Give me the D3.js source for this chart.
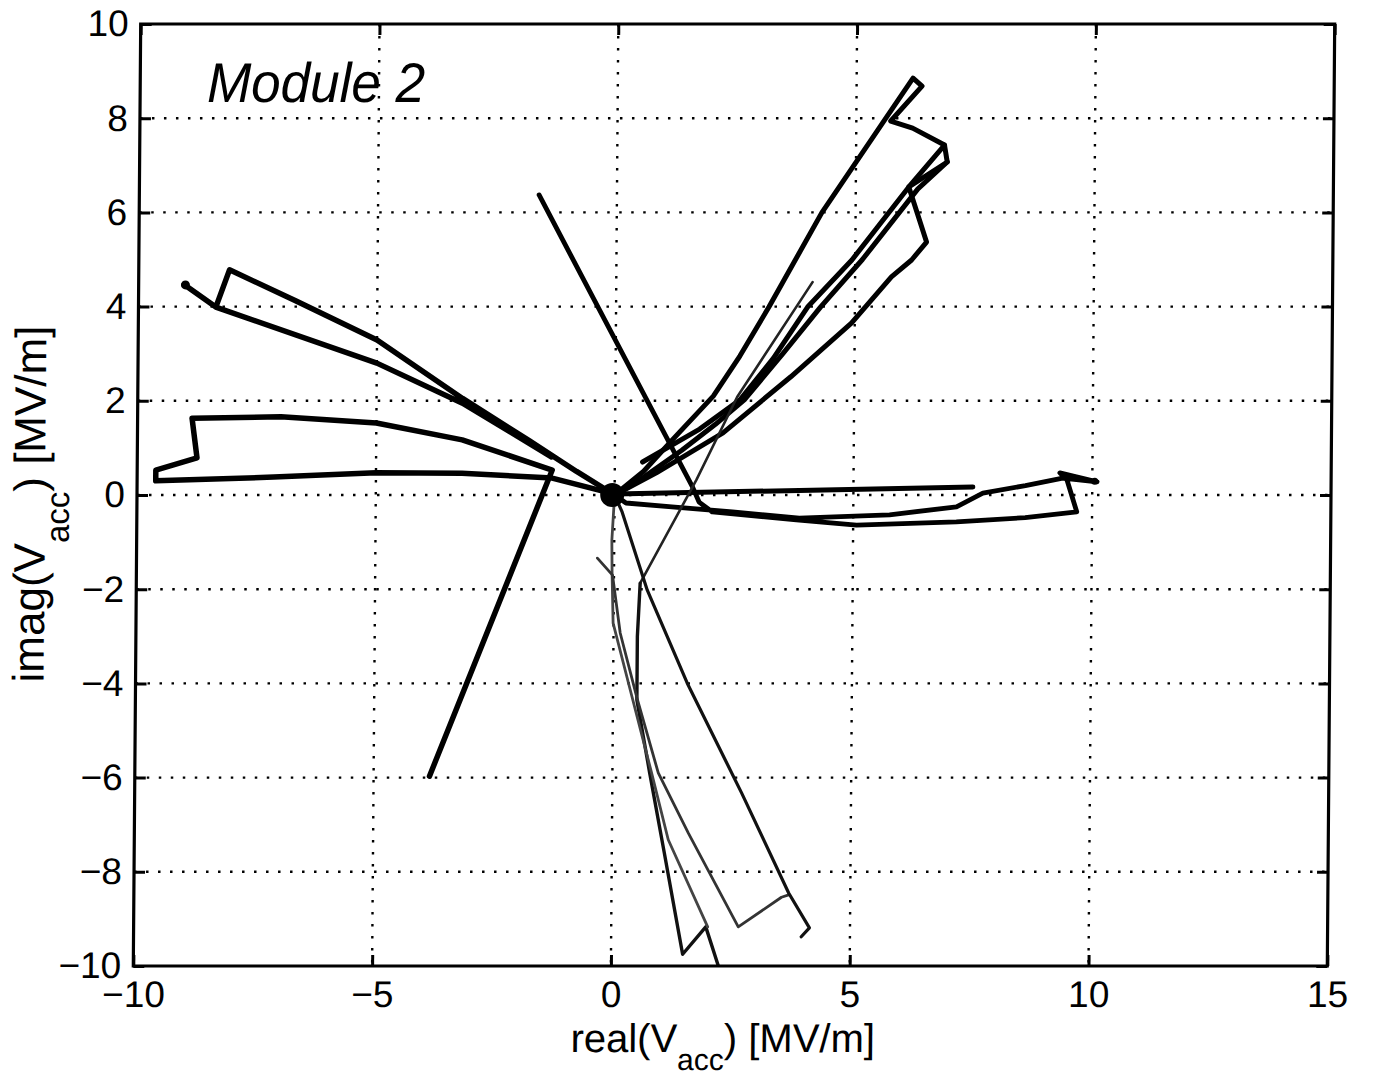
<!DOCTYPE html>
<html><head><meta charset="utf-8">
<script src="https://cdn.jsdelivr.net/npm/d3@7"></script>
<style>body{margin:0;background:#fff}svg{display:block}</style>
</head><body>
<svg id="chart" width="1375" height="1077"></svg>
<script>
// ---------- data ----------
const xDomain = [-10, 15];
const yDomain = [-10, 10];
const xTicks = [-10, -5, 0, 5, 10, 15];
const yTicks = [-10, -8, -6, -4, -2, 0, 2, 4, 6, 8, 10];
const xLabelParts = ["real(V", "acc", ") [MV/m]"];
const yLabelParts = ["imag(V", "acc", ") [MV/m]"];
const annotation = "Module 2";

const traceA = [[0,0],[-0.8,0.5],[-1.79,1.15],[-3.2,2.05],[-5.0,3.29],[-6.7,4.12],[-8.10,4.78],[-8.38,3.99],[-9.05,4.47],[-8.38,3.99],[-5.0,2.80],[-3.2,1.95],[-1.33,0.81]];
const traceB = [[0,0.02],[-1.31,0.36],[-3.2,0.46],[-5.0,0.47],[-7.14,0.38],[-9.61,0.30],[-9.61,0.53],[-8.75,0.79],[-8.86,1.63],[-7.0,1.66],[-5.0,1.53],[-3.2,1.17],[-1.31,0.53],[-3.83,-5.97]];
const traceFlat = [[0,0.02],[7.5,0.17]];
const traceC = [[-1.63,6.37],[1.63,0.17],[1.77,-0.15],[2.05,-0.36],[3.81,-0.53],[5.07,-0.64],[7.16,-0.57],[8.6,-0.48],[9.68,-0.36],[9.47,0.32],[9.32,0.47],[10.1,0.28],[9.38,0.36],[8.6,0.2],[7.71,0.04],[7.16,-0.25],[5.76,-0.42],[3.87,-0.49],[2.47,-0.36],[1.2,-0.25],[0.24,-0.17],[0,0]];
const traceD = [[0,0],[0.6,0.5],[1.2,1.17],[2.05,2.1],[2.6,2.95],[3.2,3.99],[4.29,5.99],[5.59,7.96],[6.18,8.85],[6.37,8.68],[5.72,7.94],[6.18,7.79],[6.85,7.43],[6.91,7.07],[6.11,6.54],[6.49,5.37],[6.18,4.99],[5.76,4.63],[4.93,3.65],[3.67,2.51],[2.26,1.32],[0.87,0.47],[0,0]];
const traceM1 = [[0.58,0.70],[1.77,1.40],[2.61,2.02],[3.3,2.9],[4.01,3.99],[4.93,4.99],[6.11,6.54],[6.85,7.43]];
const traceM2 = [[0,0],[0.5,0.3],[1.4,0.95],[2.1,1.5],[2.7,2.02],[3.5,3.0],[4.28,3.99],[5.15,5.0],[6.3,6.5],[6.91,7.07]];
const traceThin = [[4.11,4.52],[2.55,2.08],[1.71,0.32],[0.55,-1.87]];
const traceL3 = [[0.55,-1.87],[0.5,-3.0],[0.5,-4.35],[0.78,-5.9],[1.1,-7.6],[1.5,-9.75],[1.98,-9.17],[2.25,-10.0]];
const traceL1 = [[0,0],[-0.05,-0.96],[-0.04,-1.66],[-0.01,-2.72],[0.36,-4.14],[0.82,-5.90],[1.18,-7.32],[2.02,-9.17]];
const traceL2 = [[-0.35,-1.34],[-0.03,-1.70],[0.14,-2.93],[0.5,-4.3],[0.96,-5.90],[1.60,-7.18],[2.66,-9.17],[3.56,-8.54],[3.71,-8.49]];
const traceL4 = [[0,0],[0.16,-0.36],[0.7,-2.02],[1.55,-3.99],[2.71,-6.33],[3.71,-8.45],[4.15,-9.19],[3.98,-9.38]];
const blobs = [[-0.05,0,12],[-9.02,4.46,4.5],[10.05,0.29,3.5]];

// ---------- drawing ----------
const L = 137, R = 1331, T = 24, B = 966;
const x = d3.scaleLinear().domain(xDomain).range([L, R]);
const y = d3.scaleLinear().domain(yDomain).range([B, T]);
const FONT = "'Liberation Sans', Arial, Helvetica, sans-serif";
const fmt = d => d < 0 ? "\u2212" + (-d) : String(d);

const svg = d3.select("#chart");
const g = svg.append("g").attr("transform", "translate(0,495) skewX(-0.45) translate(0,-495)");

svg.append("defs").append("clipPath").attr("id", "clip")
  .append("rect").attr("x", L).attr("y", T).attr("width", R - L).attr("height", B - T);

// grid
const grid = g.append("g").attr("stroke", "#000").attr("stroke-width", 2.4).attr("stroke-dasharray", "2.5,9.5");
grid.selectAll(".gx").data(xTicks.filter(d => d > xDomain[0] && d < xDomain[1])).join("line")
  .attr("x1", d => x(d)).attr("x2", d => x(d)).attr("y1", T).attr("y2", B);
grid.selectAll(".gy").data(yTicks.filter(d => d > yDomain[0] && d < yDomain[1])).join("line")
  .attr("y1", d => y(d)).attr("y2", d => y(d)).attr("x1", L).attr("x2", R);

// traces
const line = d3.line().x(d => x(d[0])).y(d => y(d[1]));
const series = [
  {data: traceB, w: 5.5, c: "#000"},
  {data: traceA, w: 5.5, c: "#000"},
  {data: traceFlat, w: 5, c: "#000"},
  {data: traceC, w: 4.8, c: "#000"},
  {data: traceD, w: 5, c: "#000"},
  {data: traceM1, w: 5, c: "#000"},
  {data: traceM2, w: 5, c: "#000"},
  {data: traceThin, w: 2.6, c: "#222"},
  {data: traceL3, w: 3.4, c: "#111"},
  {data: traceL1, w: 2.8, c: "#444"},
  {data: traceL2, w: 2.8, c: "#333"},
  {data: traceL4, w: 3.2, c: "#111"}
];
const tr = g.append("g").attr("clip-path", "url(#clip)");
tr.selectAll("path").data(series).join("path")
  .attr("d", s => line(s.data)).attr("fill", "none")
  .attr("stroke", s => s.c).attr("stroke-width", s => s.w)
  .attr("stroke-linejoin", "round").attr("stroke-linecap", "round");
tr.selectAll("circle").data(blobs).join("circle")
  .attr("cx", d => x(d[0])).attr("cy", d => y(d[1])).attr("r", d => d[2]).attr("fill", "#000");

// axes (ticks inward, box)
function styleAxis(sel) {
  sel.select(".domain").remove();
  sel.selectAll(".tick line").attr("stroke", "#000").attr("stroke-width", 3);
  sel.selectAll(".tick text").attr("fill", "#000").attr("font-family", FONT).attr("font-size", 37);
}
g.append("g").attr("transform", `translate(0,${B})`)
  .call(d3.axisBottom(x).tickValues(xTicks).tickSizeInner(-11).tickSizeOuter(0).tickPadding(15).tickFormat(fmt)).call(styleAxis);
g.append("g").attr("transform", `translate(0,${T})`)
  .call(d3.axisTop(x).tickValues(xTicks).tickSizeInner(-11).tickSizeOuter(0).tickFormat("")).call(styleAxis);
g.append("g").attr("transform", `translate(${L},0)`)
  .call(d3.axisLeft(y).tickValues(yTicks).tickSizeInner(-11).tickSizeOuter(0).tickPadding(12).tickFormat(fmt)).call(styleAxis);
g.append("g").attr("transform", `translate(${R},0)`)
  .call(d3.axisRight(y).tickValues(yTicks).tickSizeInner(-11).tickSizeOuter(0).tickFormat("")).call(styleAxis);
g.append("rect").attr("x", L).attr("y", T).attr("width", R - L).attr("height", B - T)
  .attr("fill", "none").attr("stroke", "#000").attr("stroke-width", 3.2);

// axis labels
function label(parent, parts, subSize, subShift) {
  parent.append("tspan").text(parts[0]);
  parent.append("tspan").attr("dy", subShift).attr("font-size", subSize).text(parts[1]);
  parent.append("tspan").attr("dy", -subShift).text(parts[2]);
}
const xl = g.append("text").attr("x", 727).attr("y", 1052).attr("text-anchor", "middle")
  .attr("font-family", FONT).attr("font-size", 40).attr("fill", "#000");
label(xl, xLabelParts, 30, 18);
const yl = g.append("text").attr("transform", "translate(45,504) rotate(-90)").attr("text-anchor", "middle")
  .attr("font-family", FONT).attr("font-size", 44).attr("fill", "#000");
label(yl, yLabelParts, 33, 24);

// handwritten annotation
g.append("text").attr("x", x(-8.6)).attr("y", y(8.35)).attr("font-family", FONT).attr("font-style", "italic")
  .attr("font-size", 56).attr("textLength", 218).attr("lengthAdjust", "spacingAndGlyphs")
  .attr("fill", "#000").text(annotation);
</script>
</body></html>
